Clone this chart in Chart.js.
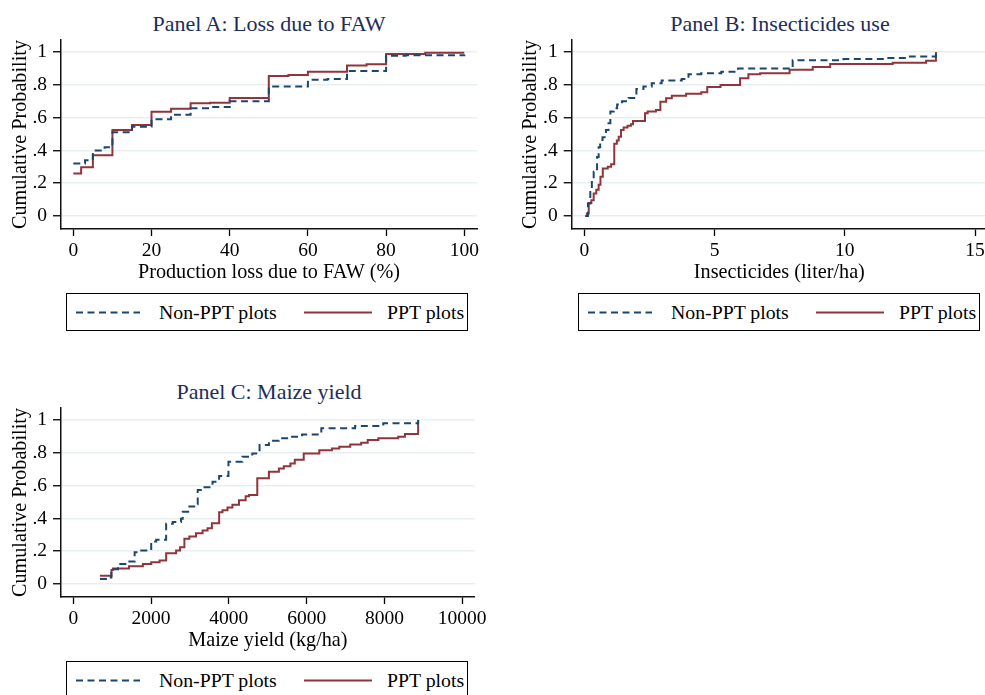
<!DOCTYPE html>
<html>
<head>
<meta charset="utf-8">
<script src="https://cdn.jsdelivr.net/npm/chart.js@4.4.1/dist/chart.umd.min.js"></script>
<style>
    body { margin: 0; background: #fff; width: 985px; height: 695px; overflow: hidden; position: relative; font-family: "Liberation Serif", serif; }
    canvas { position: absolute; }
    .title { position: absolute; width: 420px; text-align: center; font-size: 22px; line-height: 24px; color: #1c2d5a; }
    .legend { position: absolute; width: 400px; height: 36px; border: 1.6px solid #000; background: #fff; }
    .legend svg { position: absolute; top: 0; }
    .legend span { position: absolute; top: 7px; font-size: 19.8px; line-height: 22px; color: #000; white-space: nowrap; }
</style>
</head>
<body>

<div class="title" style="left:59px; top:12px;">Panel A: Loss due to FAW</div>
<div class="title" style="left:570px; top:12px;">Panel B: Insecticides use</div>
<div class="title" style="left:59px; top:380px;">Panel C: Maize yield</div>

<canvas id="chart-a" width="490" height="290" style="left:0; top:0;"></canvas>
<canvas id="chart-b" width="490" height="290" style="left:510px; top:0;"></canvas>
<canvas id="chart-c" width="490" height="290" style="left:0; top:368px;"></canvas>

<div class="legend" id="legend-a" style="left:66px; top:293px;"></div>
<div class="legend" id="legend-b" style="left:578px; top:293px;"></div>
<div class="legend" id="legend-c" style="left:66px; top:661px;"></div>

<script>
// Tick labels
const yTicks = [0, 0.2, 0.4, 0.6, 0.8, 1];
const yTickText = ['0', '.2', '.4', '.6', '.8', '1'];
const lossTicks = [0, 20, 40, 60, 80, 100];
const insectTicks = [0, 5, 10, 15];
const yieldTicks = [0, 2000, 4000, 6000, 8000, 10000];

// Panel A: production loss due to FAW (%)
const lossNonX = [0, 3, 5, 8, 10, 15, 20, 25, 30, 35, 40, 50, 60, 65, 70, 80, 85, 100];
const lossNonY = [0.32, 0.34, 0.40, 0.42, 0.51, 0.545, 0.59, 0.618, 0.657, 0.665, 0.70, 0.79, 0.83, 0.835, 0.884, 0.977, 0.98, 0.985];
const lossPptX = [0, 2, 5, 10, 15, 20, 25, 30, 35, 40, 50, 55, 60, 70, 75, 80, 90, 100];
const lossPptY = [0.26, 0.297, 0.37, 0.524, 0.555, 0.636, 0.654, 0.687, 0.69, 0.72, 0.854, 0.86, 0.88, 0.917, 0.925, 0.988, 0.995, 0.995];

// Panel B: insecticides (liter/ha)
const insectNonX = [0.04, 0.14, 0.23, 0.29, 0.36, 0.49, 0.55, 0.61, 0.70, 0.83, 0.93, 1.0, 1.13, 1.26, 1.45, 1.7, 2.0, 2.27, 2.59, 2.97, 3.74, 4.0, 4.49, 5.26, 5.9, 8.0, 9.95, 11.6, 12.5, 13.5, 13.5];
const insectNonY = [0, 0.076, 0.147, 0.218, 0.27, 0.36, 0.42, 0.463, 0.48, 0.524, 0.565, 0.637, 0.657, 0.68, 0.70, 0.72, 0.774, 0.79, 0.81, 0.826, 0.835, 0.865, 0.871, 0.88, 0.90, 0.95, 0.957, 0.963, 0.973, 0.973, 1.0];
const insectPptX = [0.04, 0.1, 0.17, 0.27, 0.36, 0.46, 0.55, 0.62, 0.71, 0.9, 1.03, 1.15, 1.25, 1.32, 1.41, 1.51, 1.66, 1.79, 1.87, 2.33, 2.43, 2.75, 2.92, 3.14, 3.36, 3.91, 4.49, 4.72, 5.23, 5.98, 6.3, 6.75, 7.88, 8.77, 9.44, 11.84, 13.12, 13.5, 13.5];
const insectPptY = [0, 0.015, 0.08, 0.096, 0.137, 0.16, 0.19, 0.24, 0.29, 0.30, 0.316, 0.44, 0.46, 0.484, 0.524, 0.54, 0.55, 0.56, 0.58, 0.627, 0.637, 0.647, 0.696, 0.718, 0.733, 0.745, 0.755, 0.786, 0.798, 0.84, 0.865, 0.871, 0.892, 0.908, 0.927, 0.935, 0.947, 0.947, 1.0];

// Panel C: maize yield (kg/ha)
const yieldNonX = [685, 895, 980, 1150, 1365, 1578, 1748, 2004, 2132, 2388, 2558, 2771, 2814, 2985, 3150, 3200, 3325, 3580, 3750, 3990, 4347, 4603, 4790, 5030, 5286, 5626, 5882, 6377, 7246, 7970, 8866, 8866];
const yieldNonY = [0.03, 0.04, 0.09, 0.122, 0.137, 0.194, 0.204, 0.26, 0.27, 0.367, 0.378, 0.398, 0.44, 0.473, 0.487, 0.573, 0.59, 0.624, 0.659, 0.745, 0.776, 0.796, 0.847, 0.873, 0.888, 0.898, 0.912, 0.949, 0.963, 0.98, 0.98, 1.0];
const yieldPptX = [685, 982, 1020, 1433, 1790, 2005, 2220, 2388, 2644, 2746, 2857, 2985, 3155, 3325, 3453, 3564, 3751, 3836, 3965, 4092, 4262, 4432, 4518, 4731, 5030, 5286, 5414, 5584, 5695, 5925, 6325, 6650, 6840, 7120, 7402, 7570, 7843, 8355, 8526, 8866, 8866];
const yieldPptY = [0.051, 0.086, 0.094, 0.108, 0.122, 0.133, 0.143, 0.188, 0.204, 0.224, 0.276, 0.29, 0.31, 0.327, 0.34, 0.37, 0.437, 0.45, 0.466, 0.484, 0.51, 0.535, 0.543, 0.645, 0.684, 0.704, 0.718, 0.735, 0.757, 0.796, 0.816, 0.826, 0.837, 0.851, 0.861, 0.878, 0.888, 0.898, 0.914, 0.914, 1.0];

const seriesNames = ['Non-PPT plots', 'PPT plots'];

// Colours
const NAVY = '#1a476f';
const MAROON = '#90353b';
const FONT = '"Liberation Serif", serif';

function toPoints(xs, ys) {
    return xs.map((x, i) => ({ x: x, y: ys[i] }));
}

// Build one CDF panel
function initCdfChart(canvasId, opts) {
    const ctx = document.getElementById(canvasId);
    return new Chart(ctx, {
        type: 'line',
        data: {
            datasets: [{
                label: seriesNames[0],
                data: toPoints(opts.nonX, opts.nonY),
                borderColor: NAVY,
                borderWidth: 2,
                borderDash: [7, 4.5],
                stepped: 'before',
                pointRadius: 0,
                fill: false
            }, {
                label: seriesNames[1],
                data: toPoints(opts.pptX, opts.pptY),
                borderColor: MAROON,
                borderWidth: 2,
                stepped: 'before',
                pointRadius: 0,
                fill: false
            }]
        },
        options: {
            responsive: false,
            animation: false,
            layout: { padding: { top: 40, right: 13, left: 0, bottom: 0 } },
            plugins: {
                legend: { display: false },
                tooltip: { enabled: false }
            },
            scales: {
                x: {
                    type: 'linear',
                    min: opts.xMin,
                    max: opts.xMax,
                    afterBuildTicks: axis => { axis.ticks = opts.xTicks.map(v => ({ value: v })); },
                    afterFit: axis => { axis.height = 61; },
                    grid: { drawOnChartArea: false, drawTicks: true, tickLength: 7, tickColor: '#000', tickWidth: 1.3 },
                    border: { display: true, color: '#111', width: 1.5 },
                    ticks: {
                        font: { family: FONT, size: 19.5 },
                        color: '#000',
                        padding: 3,
                        maxRotation: 0,
                        autoSkip: false,
                        callback: value => String(value)
                    },
                    title: { display: true, text: opts.xTitle, font: { family: FONT, size: 20.2 }, color: '#000', padding: { top: 0, bottom: 5 } }
                },
                y: {
                    type: 'linear',
                    min: -0.079,
                    max: 1.073,
                    afterBuildTicks: axis => { axis.ticks = yTicks.map(v => ({ value: v })); },
                    afterFit: axis => { axis.width = opts.yWidth; },
                    grid: { color: '#e8eff1', lineWidth: 1.5, drawTicks: true, tickLength: 8, tickColor: '#000', tickWidth: 1.3 },
                    border: { display: true, color: '#111', width: 1.5 },
                    ticks: {
                        font: { family: FONT, size: 19.5 },
                        color: '#000',
                        padding: 6,
                        autoSkip: false,
                        callback: (value, index) => yTickText[index]
                    },
                    title: { display: true, text: 'Cumulative Probability', font: { family: FONT, size: 20.2 }, color: '#000', padding: { top: 9, bottom: 0 } }
                }
            }
        }
    });
}

// Legend box under each panel
function renderLegend(id) {
    const box = document.getElementById(id);
    box.innerHTML = `
        <svg width="80" height="36" style="left:9px"><line x1="0" y1="18.5" x2="64" y2="18.5" stroke="${NAVY}" stroke-width="2" stroke-dasharray="7 4.5"/></svg>
        <span style="left:92px">${seriesNames[0]}</span>
        <svg width="80" height="36" style="left:237px"><line x1="0" y1="18.5" x2="68" y2="18.5" stroke="${MAROON}" stroke-width="2"/></svg>
        <span style="left:320px">${seriesNames[1]}</span>
    `;
}

initCdfChart('chart-a', {
    nonX: lossNonX, nonY: lossNonY, pptX: lossPptX, pptY: lossPptY,
    xMin: -3.15, xMax: 103.25, xTicks: lossTicks, yWidth: 61,
    xTitle: 'Production loss due to FAW (%)'
});

initCdfChart('chart-b', {
    nonX: insectNonX, nonY: insectNonY, pptX: insectPptX, pptY: insectPptY,
    xMin: -0.484, xMax: 15.46, xTicks: insectTicks, yWidth: 61.7,
    xTitle: 'Insecticides (liter/ha)'
});

initCdfChart('chart-c', {
    nonX: yieldNonX, nonY: yieldNonY, pptX: yieldPptX, pptY: yieldPptY,
    xMin: -315, xMax: 10325, xTicks: yieldTicks, yWidth: 61,
    xTitle: 'Maize yield (kg/ha)'
});

renderLegend('legend-a');
renderLegend('legend-b');
renderLegend('legend-c');
</script>
</body>
</html>
